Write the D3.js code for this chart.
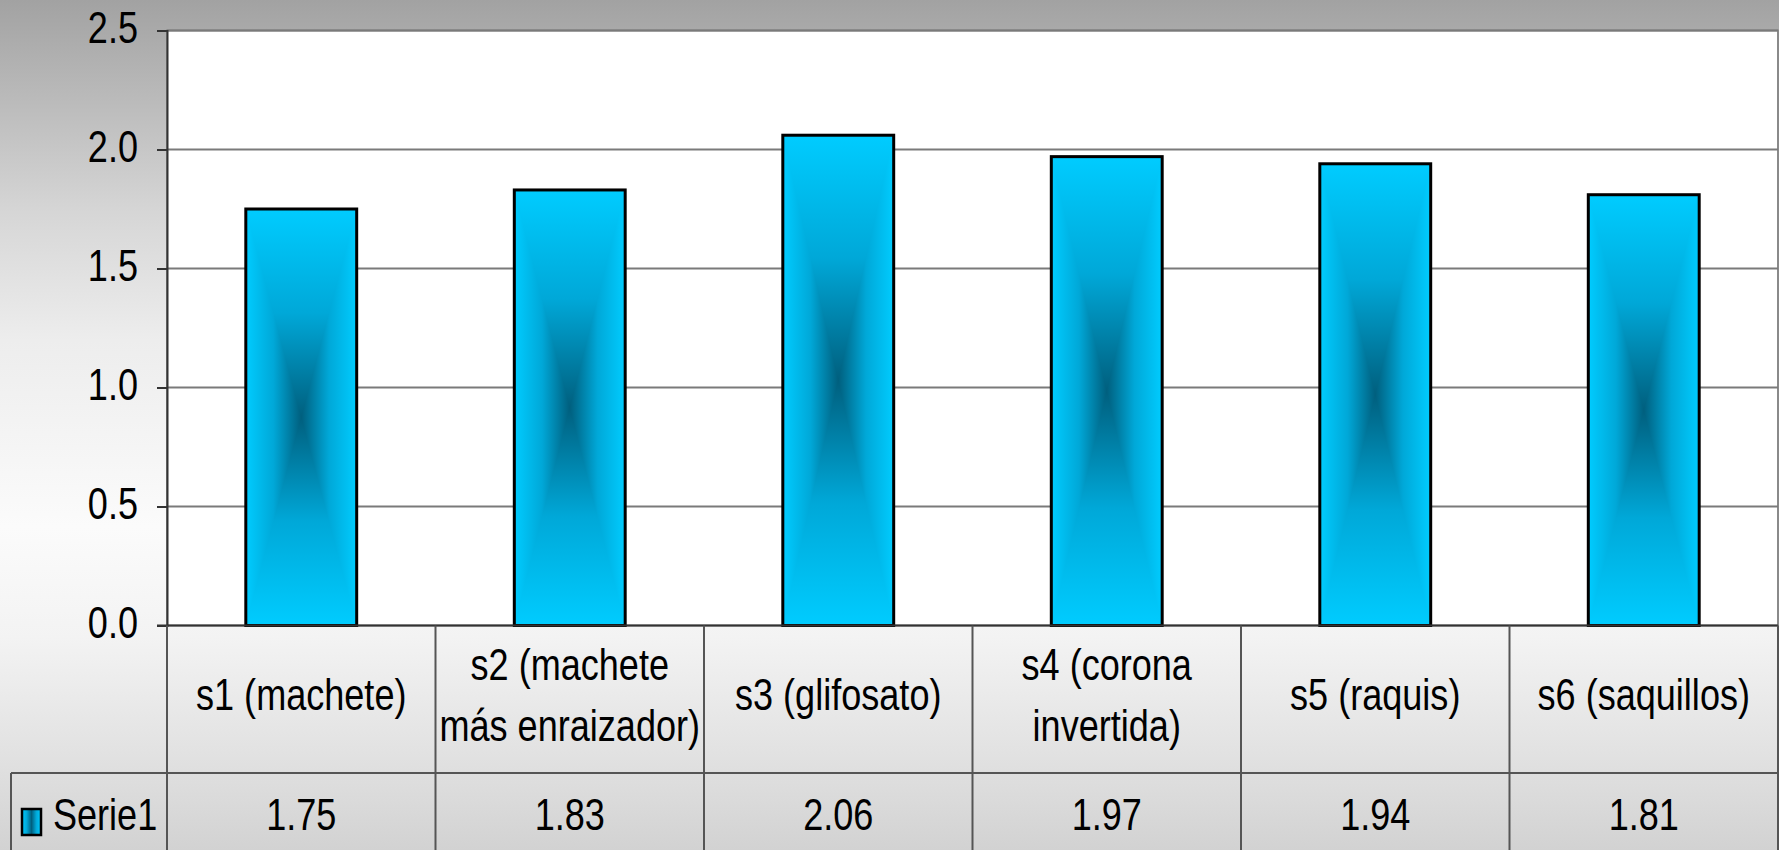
<!DOCTYPE html>
<html>
<head>
<meta charset="utf-8">
<script src="https://cdn.jsdelivr.net/npm/d3@7"></script>
<style>
  html, body { margin: 0; padding: 0; overflow: hidden; background: #fff; }
  svg { display: block; }
  text { font-family: "Liberation Sans", Arial, sans-serif; fill: #000; }
</style>
</head>
<body>
<svg id="chart" width="1779" height="850"></svg>
<script>
// data
const categories = [
  "s1 (machete)",
  "s2 (machete\nmás enraizador)",
  "s3 (glifosato)",
  "s4 (corona\ninvertida)",
  "s5 (raquis)",
  "s6 (saquillos)"
];
const values     = [1.75, 1.83, 2.06, 1.97, 1.94, 1.81];
const seriesName = "Serie1";
const yTicks     = [0, 0.5, 1.0, 1.5, 2.0, 2.5];

// layout
const W = 1779, H = 850;
const plot = { left: 167, right: 1778, top: 30.5, bottom: 625.5 };
const table = { catBottom: 773, legendLeft: 11 };
const fontSize = 44;
const narrow = 0.82;   // no Arial Narrow installed: squeeze glyphs horizontally

const svg  = d3.select("#chart");
const defs = svg.append("defs");

// background gradient (dark gray at top, white in middle, gray at the bottom)
const bg = defs.append("linearGradient").attr("id", "bgGrad")
  .attr("x1", 0).attr("y1", 0).attr("x2", 0).attr("y2", 1);
[[0, "#a2a2a2"], [0.25, "#d6d6d6"], [0.4, "#ededed"], [0.62, "#fbfbfb"],
 [0.75, "#f3f3f3"], [0.9, "#e0e0e0"], [1, "#d2d2d2"]]
  .forEach(([o, c]) => bg.append("stop").attr("offset", o).attr("stop-color", c));

// bar gradients: rectangular "from center" look = horizontal rect + top/bottom triangles
const light = "#00ccff", mid = "#00a8d8", dark = "#005f7e";
function grad(id, x1, y1, x2, y2, stops) {
  const g = defs.append("linearGradient").attr("id", id)
    .attr("x1", x1).attr("y1", y1).attr("x2", x2).attr("y2", y2);
  stops.forEach(([o, c]) => g.append("stop").attr("offset", o).attr("stop-color", c));
}
grad("barH", 0, 0, 1, 0, [[0, light], [0.25, mid], [0.5, dark], [0.75, mid], [1, light]]);
grad("barTop", 0, 0, 0, 1, [[0, light], [0.5, mid], [1, dark]]);
grad("barBot", 0, 0, 0, 1, [[0, dark], [0.5, mid], [1, light]]);

svg.append("rect").attr("width", W).attr("height", H).attr("fill", "url(#bgGrad)");

// scales
const x = d3.scaleBand()
  .domain(categories)
  .range([plot.left, plot.right])
  .paddingInner(0.587)
  .paddingOuter(0.2935);
const y = d3.scaleLinear().domain([0, 2.5]).range([plot.bottom, plot.top]);
const step = x.step();
const colLeft = c => x(c) - step * x.paddingOuter();
const colMid  = c => x(c) + x.bandwidth() / 2;

// squeeze a text horizontally around its anchor x
function condense(sel, ax) {
  sel.attr("transform", `translate(${ax},0) scale(${narrow},1) translate(${-ax},0)`);
}

// plot area
svg.append("rect")
  .attr("x", plot.left).attr("y", plot.top)
  .attr("width", plot.right - plot.left).attr("height", plot.bottom - plot.top)
  .attr("fill", "#fff").attr("stroke", "#8a8a8a").attr("stroke-width", 2);

// gridlines
svg.append("g").selectAll("line").data(yTicks.slice(1)).join("line")
  .attr("x1", plot.left).attr("x2", plot.right)
  .attr("y1", d => y(d)).attr("y2", d => y(d))
  .attr("stroke", "#7a7a7a").attr("stroke-width", 2);

// y axis
const yAxis = svg.append("g")
  .attr("transform", `translate(${plot.left},0)`)
  .call(d3.axisLeft(y).tickValues(yTicks).tickFormat(d3.format(".1f")).tickSize(10).tickPadding(19));
yAxis.select(".domain").attr("stroke", "#333").attr("stroke-width", 2);
yAxis.selectAll(".tick line").attr("stroke", "#333").attr("stroke-width", 2);
yAxis.selectAll(".tick text")
  .attr("font-size", fontSize)
  .attr("font-family", null)
  .attr("dy", "0.28em")
  .each(function() { condense(d3.select(this), +this.getAttribute("x")); });

// bars
const bars = svg.append("g").selectAll("g").data(values).join("g");
bars.each(function(v, i) {
  const g  = d3.select(this);
  const x0 = x(categories[i]), w = x.bandwidth();
  const y0 = y(v), y1 = y(0);
  const cx = x0 + w / 2, cy = (y0 + y1) / 2;
  g.append("rect").attr("x", x0).attr("y", y0).attr("width", w).attr("height", y1 - y0)
    .attr("fill", "url(#barH)");
  g.append("polygon").attr("points", `${x0},${y0} ${x0 + w},${y0} ${cx},${cy}`)
    .attr("fill", "url(#barTop)");
  g.append("polygon").attr("points", `${x0},${y1} ${x0 + w},${y1} ${cx},${cy}`)
    .attr("fill", "url(#barBot)");
  g.append("rect").attr("x", x0).attr("y", y0).attr("width", w).attr("height", y1 - y0)
    .attr("fill", "none").attr("stroke", "#000").attr("stroke-width", 3);
});

// category axis line
svg.append("line")
  .attr("x1", plot.left - 10).attr("x2", plot.right)
  .attr("y1", plot.bottom).attr("y2", plot.bottom)
  .attr("stroke", "#333").attr("stroke-width", 2);

// data table
const tbl = svg.append("g").attr("stroke", "#555").attr("stroke-width", 2);
categories.forEach(c => {
  tbl.append("line").attr("x1", colLeft(c)).attr("x2", colLeft(c))
    .attr("y1", plot.bottom).attr("y2", H);
});
tbl.append("line").attr("x1", plot.right).attr("x2", plot.right)
  .attr("y1", plot.bottom).attr("y2", H);
tbl.append("line").attr("x1", table.legendLeft).attr("x2", plot.right)
  .attr("y1", table.catBottom).attr("y2", table.catBottom);
tbl.append("line").attr("x1", table.legendLeft).attr("x2", table.legendLeft)
  .attr("y1", table.catBottom).attr("y2", H);

// category labels
const catText = svg.append("g").selectAll("text").data(categories).join("text")
  .attr("text-anchor", "middle")
  .attr("font-size", fontSize)
  .attr("x", colMid);
catText.each(function(d) {
  const lines = d.split("\n");
  const t = d3.select(this);
  const base = lines.length === 1 ? 710 : 680;
  lines.forEach((ln, k) => t.append("tspan").attr("x", colMid(d))
    .attr("y", base + k * 61).text(ln));
  condense(t, colMid(d));
});

// value row
svg.append("g").selectAll("text").data(values).join("text")
  .attr("text-anchor", "middle")
  .attr("font-size", fontSize)
  .attr("x", (d, i) => colMid(categories[i]))
  .attr("y", 830)
  .text(d => d3.format(".2f")(d))
  .each(function(d, i) { condense(d3.select(this), colMid(categories[i])); });

// legend key
const key = svg.append("g");
key.append("rect").attr("x", 22).attr("y", 809).attr("width", 19).attr("height", 26)
  .attr("fill", "url(#barH)").attr("stroke", "#000").attr("stroke-width", 2.5);
key.append("text").attr("x", 53).attr("y", 830).attr("font-size", fontSize).text(seriesName)
  .call(condense, 53);
</script>
</body>
</html>
